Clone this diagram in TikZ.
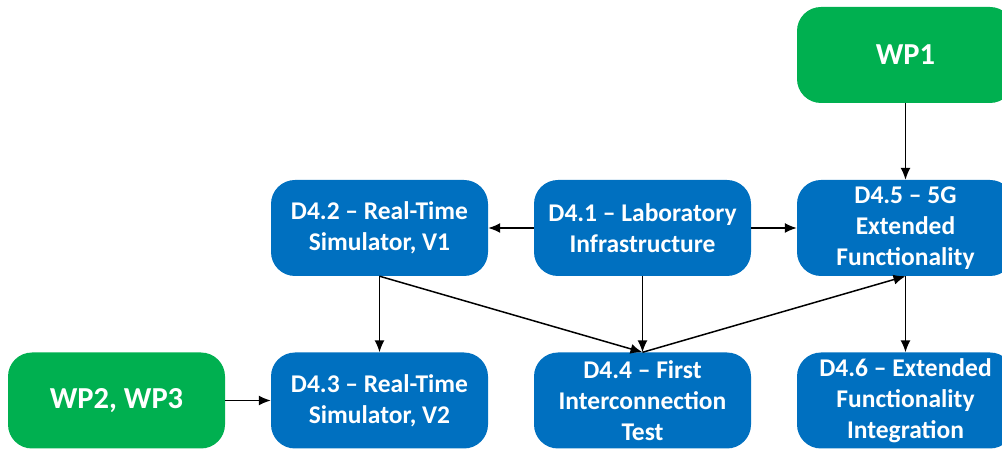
\documentclass[tikz,border=0pt]{standalone}
\usepackage{fontspec}
\setmainfont{Carlito}
\usetikzlibrary{arrows.meta}

\definecolor{wpgreen}{HTML}{00B050}
\definecolor{delblue}{HTML}{0070C0}

\begin{document}
\begin{tikzpicture}[x=1pt, y=1pt,
	box/.style={rounded corners=24pt, minimum width=217pt, minimum height=96pt, align=center, text=white, font=\fontsize{25.5}{31}\selectfont\bfseries, inner sep=0pt},
	wp/.style={box, fill=wpgreen, font=\fontsize{30.5}{36}\selectfont\bfseries},
	del/.style={box, fill=delblue},
	link/.style={-{Latex[length=12pt,width=10pt]}, line width=1.5pt}]
\useasboundingbox (0,0) rectangle (1002,450);
\node[wp] (wpone) at (905.5,395) {WP1};
\node[wp] (wptwo) at (116.5,49.5) {WP2, WP3};
\node[del] (dfive) at (905.5,222) {D4.5 -- 5G\\Extended\\Functionality};
\node[del] (dtwo) at (379.5,222) {D4.2 -- Real-Time\\Simulator, V1};
\node[del] (done) at (642.5,222) {D4.1 -- Laboratory\\Infrastructure};
\node[del] (dthree) at (379.5,49.5) {D4.3 -- Real-Time\\Simulator, V2};
\node[del] (dfour) at (642.5,49.5) {D4.4 -- First\\Interconnection\\Test};
\node[del] (dsix) at (905.5,49.5) {D4.6 -- Extended\\Functionality\\Integration};

\draw[link] (wpone) -- (dfive);
\draw[link] (done) -- (dtwo);
\draw[link] (done) -- (dfive);
\draw[link] (dtwo) -- (dthree);
\draw[link] (dtwo.south) -- (dfour.north);
\draw[link] (done) -- (dfour);
\draw[link] (dfour.north) -- (dfive.south);
\draw[link] (dfive) -- (dsix);
\draw[link] (wptwo) -- (dthree);
\end{tikzpicture}
\end{document}
